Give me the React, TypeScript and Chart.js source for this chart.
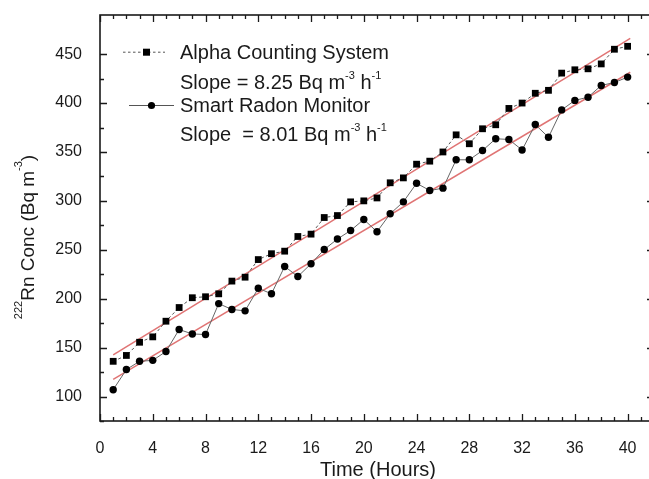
import React, { useEffect, useRef } from 'react';
import { Chart, registerables } from 'chart.js';

Chart.register(...registerables);

// ---- data ----
const hours = [1, 2, 3, 4, 5, 6, 7, 8, 9, 10, 11, 12, 13, 14, 15, 16, 17, 18, 19, 20,
  21, 22, 23, 24, 25, 26, 27, 28, 29, 30, 31, 32, 33, 34, 35, 36, 37, 38, 39, 40];
const alphaValues = [136, 142, 155.5, 161, 177, 191, 201, 202, 205, 218, 222, 240, 246, 248.6, 263.6, 266, 283, 285, 299, 300,
  303, 318.5, 323.5, 337.5, 340.6, 350, 367.5, 358.4, 373.7, 377.8, 394.5, 400, 410, 413, 430.6, 434, 435, 440, 455, 458];
const smartValues = [107, 127.6, 136, 137, 146, 168.5, 164, 163.4, 195, 189, 187.6, 210.7, 205, 233, 222.7, 235.7, 250.3, 261, 269.7, 281,
  268.4, 286.8, 299, 318, 310.6, 313, 342, 342, 351.5, 363.5, 362.8, 352, 378, 365, 393, 402.7, 406, 418, 421, 426.5];
const alphaFitX = [1, 40.2];
const alphaFitY = [142.5, 466];
const smartFitX = [1, 40.2];
const smartFitY = [117.5, 431.5];
const seriesLabels = ['Alpha Counting System', 'Smart Radon Monitor'];
const slopeLabels = ['Slope = 8.25 Bq m', 'Slope  = 8.01 Bq m'];
const xTitle = 'Time (Hours)';
const yTitleMain = 'Rn Conc (Bq m';
const yTitleSup = '222';
const xMajorStep = 4;
const yMajorStep = 50;
const yLabelMin = 100;
const yLabelMax = 450;
const xLabelMax = 40;

const FONT = '"Liberation Sans", Arial, sans-serif';
const TEXT = '#1a1a1a';
const FIT_COLOR = '#e07474';

type Part = { t: string; sup?: boolean };

function drawRich(ctx: CanvasRenderingContext2D, parts: Part[], x: number, y: number, size: number, supSize: number, raise: number, align: 'left' | 'center') {
  const widths = parts.map(p => {
    ctx.font = `${p.sup ? supSize : size}px ${FONT}`;
    return ctx.measureText(p.t).width;
  });
  const total = widths.reduce((a, b) => a + b, 0);
  let cx = align === 'center' ? x - total / 2 : x;
  ctx.textAlign = 'left';
  ctx.textBaseline = 'alphabetic';
  parts.forEach((p, i) => {
    ctx.font = `${p.sup ? supSize : size}px ${FONT}`;
    ctx.fillText(p.t, cx, p.sup ? y - raise : y);
    cx += widths[i];
  });
}

const decorPlugin = {
  id: 'decor',
  afterDraw(chart: any) {
    const { ctx, chartArea: a, scales } = chart;
    const xs = scales.x;
    const ys = scales.y;
    ctx.save();
    // frame
    ctx.strokeStyle = TEXT;
    ctx.lineWidth = 1.6;
    ctx.strokeRect(a.left, a.top, a.right - a.left, a.bottom - a.top);
    // inward ticks
    ctx.lineWidth = 1.3;
    ctx.beginPath();
    xs.ticks.forEach((t: any) => {
      const px = Math.round(xs.getPixelForValue(t.value)) + 0.5;
      const len = t.value % xMajorStep === 0 ? 7 : 4;
      ctx.moveTo(px, a.bottom); ctx.lineTo(px, a.bottom - len);
      ctx.moveTo(px, a.top); ctx.lineTo(px, a.top + len);
    });
    ys.ticks.forEach((t: any) => {
      const py = Math.round(ys.getPixelForValue(t.value)) + 0.5;
      const len = t.value % yMajorStep === 0 ? 7 : 4;
      ctx.moveTo(a.left, py); ctx.lineTo(a.left + len, py);
      ctx.moveTo(a.right, py); ctx.lineTo(a.right - len, py);
    });
    ctx.stroke();

    ctx.fillStyle = TEXT;
    // x title
    drawRich(ctx, [{ t: xTitle }], (a.left + a.right) / 2 + 1, 475.5, 20, 11, 9, 'center');
    // y title (rotated)
    ctx.save();
    ctx.translate(34, 237);
    ctx.rotate(-Math.PI / 2);
    drawRich(ctx, [{ t: yTitleSup, sup: true }, { t: yTitleMain }, { t: '-3', sup: true }, { t: ')' }], 0, 0, 19, 11, 12, 'center');
    ctx.restore();

    // legend
    const rows = [
      { cy: 51.7, x0: 123, x1: 165, mx: 146.5, dash: [2.5, 2.5], shape: 'rect' },
      { cy: 105, x0: 129, x1: 174, mx: 151.5, dash: [], shape: 'circle' },
    ];
    rows.forEach((r, i) => {
      ctx.save();
      ctx.strokeStyle = '#555';
      ctx.lineWidth = 1;
      ctx.setLineDash(r.dash);
      ctx.beginPath();
      ctx.moveTo(r.x0, r.cy + 0.5);
      ctx.lineTo(r.x1, r.cy + 0.5);
      ctx.stroke();
      ctx.restore();
      ctx.fillStyle = '#000';
      if (r.shape === 'rect') {
        ctx.fillRect(r.mx - 3.5, r.cy - 3, 7, 7);
      } else {
        ctx.beginPath();
        ctx.arc(r.mx, r.cy + 0.5, 3.6, 0, Math.PI * 2);
        ctx.fill();
      }
      ctx.fillStyle = TEXT;
      drawRich(ctx, [{ t: seriesLabels[i] }], 180, r.cy + 7.2, 20, 11, 9, 'left');
      const sy = i === 0 ? 81.7 : 133.3;
      drawRich(ctx, [{ t: slopeLabels[i] }, { t: '-3', sup: true }, { t: ' h' }, { t: '-1', sup: true }], 180, sy + 7.2, 20, 11, 9.5, 'left');
    });
    ctx.restore();
  },
};

export default function App() {
  const ref = useRef<HTMLCanvasElement | null>(null);
  useEffect(() => {
    if (!ref.current) return;
    const chart = new Chart(ref.current, {
      type: 'line',
      data: {
        datasets: [
          {
            label: seriesLabels[0],
            data: hours.map((h, i) => ({ x: h, y: alphaValues[i] })),
            borderColor: '#555',
            borderWidth: 1,
            borderDash: [3, 2.5],
            pointStyle: 'rect',
            pointRadius: 4.8,
            pointBackgroundColor: '#000',
            pointBorderColor: '#000',
            pointBorderWidth: 0,
            tension: 0,
          },
          {
            label: seriesLabels[1],
            data: hours.map((h, i) => ({ x: h, y: smartValues[i] })),
            borderColor: '#666',
            borderWidth: 1,
            pointStyle: 'circle',
            pointRadius: 3.7,
            pointBackgroundColor: '#000',
            pointBorderColor: '#000',
            pointBorderWidth: 0,
            tension: 0,
          },
          {
            label: 'fit1',
            data: alphaFitX.map((x, i) => ({ x, y: alphaFitY[i] })),
            borderColor: FIT_COLOR,
            borderWidth: 1.5,
            pointRadius: 0,
          },
          {
            label: 'fit2',
            data: smartFitX.map((x, i) => ({ x, y: smartFitY[i] })),
            borderColor: FIT_COLOR,
            borderWidth: 1.5,
            pointRadius: 0,
          },
        ],
      },
      options: {
        responsive: false,
        animation: false,
        layout: { padding: { left: 0, top: 15, right: 6, bottom: 0 } },
        plugins: { legend: { display: false }, tooltip: { enabled: false } },
        scales: {
          x: {
            type: 'linear',
            min: 0,
            max: 42,
            grid: { display: false },
            border: { display: false },
            ticks: {
              stepSize: 1,
              autoSkip: false,
              maxRotation: 0,
              padding: 10,
              color: TEXT,
              font: { family: FONT, size: 16 },
              callback: (v: any) => (v % xMajorStep === 0 && v <= xLabelMax ? String(v) : ''),
            },
            afterBuildTicks: (s: any) => { s.ticks = s.ticks.filter((t: any) => Number.isInteger(t.value)); },
            afterFit: (s: any) => {
              s.height = 58;
              s.paddingLeft = 0; s.paddingRight = 0; s.paddingTop = 0; s.paddingBottom = 0;
            },
          },
          y: {
            type: 'linear',
            min: 75,
            max: 490,
            grid: { display: false },
            border: { display: false },
            ticks: {
              stepSize: 25,
              autoSkip: false,
              padding: 10,
              color: TEXT,
              font: { family: FONT, size: 16 },
              callback: (v: any) => (v % yMajorStep === 0 && v >= yLabelMin && v <= yLabelMax ? String(v) : ''),
            },
            afterBuildTicks: (s: any) => { s.ticks = s.ticks.filter((t: any) => t.value % 25 === 0); },
            afterFit: (s: any) => {
              s.width = 100;
              s.paddingLeft = 0; s.paddingRight = 0; s.paddingTop = 0; s.paddingBottom = 0;
            },
          },
        },
      },
      plugins: [decorPlugin],
    } as any);
    return () => chart.destroy();
  }, []);
  return (
    <div style={{ position: 'fixed', left: 0, top: 0, width: 660, height: 479, background: '#fff' }}>
      <canvas ref={ref} width={660} height={479} style={{ display: 'block' }} />
    </div>
  );
}
